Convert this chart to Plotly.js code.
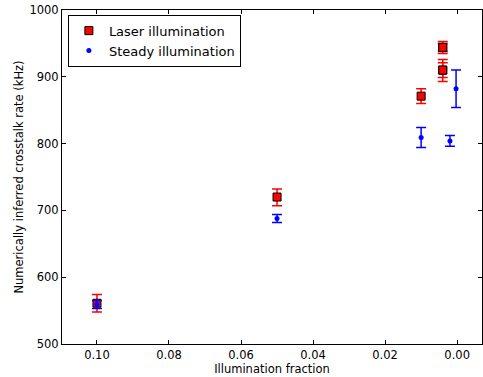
<!DOCTYPE html>
<html>
<head>
<meta charset="utf-8">
<script src="https://cdn.plot.ly/plotly-3.0.1.min.js"></script>
<style>html,body{margin:0;padding:0;background:#fff;}#chart{width:483px;height:377px;}</style>
</head>
<body>
<div id="chart"></div>
<script>
// Laser illumination series
const laserX = [0.10, 0.05, 0.01, 0.004, 0.004, 0.004, 0.004];
const laserY = [561, 720, 871, 944, 944, 910, 910];
const laserErrPlus = [13, 12, 11, 9, 6, 16, 11];
const laserErrMinus = [13, 13, 11, 9, 6, 17, 11];

// Steady illumination series
const steadyX = [0.10, 0.05, 0.01, 0.002, 0.0003];
const steadyY = [559, 688, 809, 804, 882];
const steadyErr = [6, 6, 15, 8, 28];

const xTicks = [0.10, 0.08, 0.06, 0.04, 0.02, 0.00];
const xTickText = ["0.10", "0.08", "0.06", "0.04", "0.02", "0.00"];
const yTicks = [500, 600, 700, 800, 900, 1000];

const font = "DejaVu Sans, sans-serif";

const traces = [
  {
    name: "Laser illumination",
    x: laserX, y: laserY, type: "scatter", mode: "markers",
    marker: {symbol: "square", size: 8, color: "#ff0000", line: {color: "#000", width: 1}},
    error_y: {type: "data", symmetric: false, array: laserErrPlus, arrayminus: laserErrMinus,
              color: "#ff0000", thickness: 1.5, width: 5}
  },
  {
    name: "Steady illumination",
    x: steadyX, y: steadyY, type: "scatter", mode: "markers",
    marker: {symbol: "circle", size: 5, color: "#0000ff"},
    error_y: {type: "data", array: steadyErr, color: "#0000ff", thickness: 1.5, width: 5}
  }
];

const layout = {
  width: 483, height: 377,
  margin: {l: 62, r: 1, t: 10, b: 33},
  paper_bgcolor: "#fff", plot_bgcolor: "#fff",
  font: {family: font, size: 12, color: "#000"},
  showlegend: true,
  legend: {x: 0.014, y: 0.986, xanchor: "left", yanchor: "top",
           bordercolor: "#000", borderwidth: 1, bgcolor: "#fff",
           font: {family: font, size: 13, color: "#000"}, tracegroupgap: 0},
  xaxis: {
    range: [0.1097, -0.0069], tickvals: xTicks, ticktext: xTickText,
    ticks: "inside", ticklen: 4, tickcolor: "#000", showline: true, linecolor: "#000", linewidth: 1,
    mirror: "allticks", showgrid: false, zeroline: false,
    tickfont: {family: font, size: 11.5},
    title: {text: "Illumination fraction", font: {family: font, size: 11.5}, standoff: 4}
  },
  yaxis: {
    range: [500, 1000], tickvals: yTicks,
    ticks: "inside", ticklen: 4, tickcolor: "#000", showline: true, linecolor: "#000", linewidth: 1,
    mirror: "allticks", showgrid: false, zeroline: false,
    tickfont: {family: font, size: 11.5},
    title: {text: "Numerically inferred crosstalk rate (kHz)", font: {family: font, size: 11.5}, standoff: 3}
  }
};

Plotly.newPlot("chart", traces, layout, {displayModeBar: false, staticPlot: true});
</script>
</body>
</html>
